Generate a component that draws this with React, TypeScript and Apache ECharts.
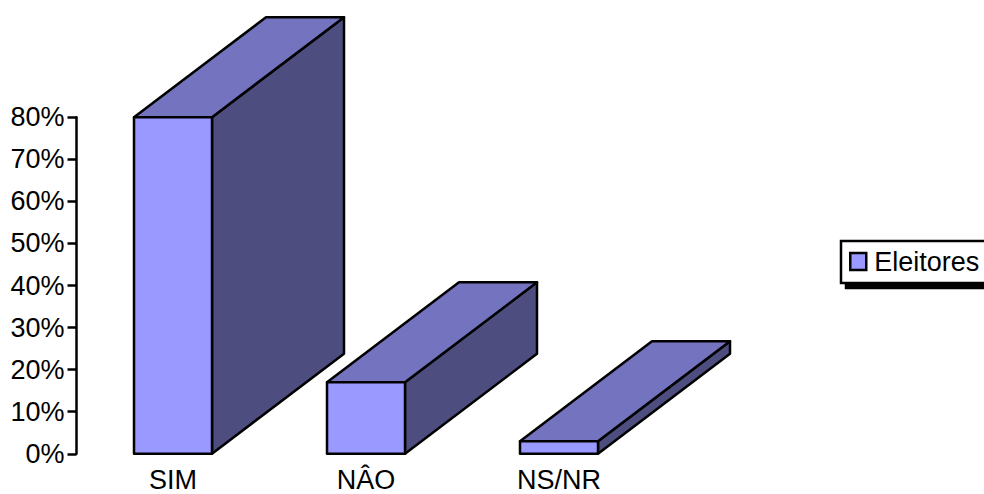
import React, { useEffect, useRef } from "react";
import * as echarts from "echarts";

const categories = ["SIM", "NÂO", "NS/NR"];
const eleitores = [80, 17, 3];
const seriesName = "Eleitores";
const yTicks = { min: 0, max: 80, interval: 10 };

const FRONT = "#9999FF";
const TOP = "#7373BF";
const SIDE = "#4D4D80";
const FONT = "'Liberation Sans', Arial, sans-serif";
const DEPTH_X = 132;
const DEPTH_Y = 100;
const BAR_WIDTH = 78;

// Draws one oblique 3D column: front, top and right faces.
function renderColumn(_params: any, api: any) {
  const [cx, yTop] = api.coord([api.value(0), api.value(1)]);
  const [, yBase] = api.coord([api.value(0), 0]);
  const l = cx - BAR_WIDTH / 2;
  const r = cx + BAR_WIDTH / 2;
  const stroke = { stroke: "#000", lineWidth: 2.5, lineJoin: "round" };
  const face = (points: number[][], fill: string) => ({
    type: "polygon",
    shape: { points },
    style: { fill, ...stroke },
  });
  return {
    type: "group",
    children: [
      face([[r, yTop], [r + DEPTH_X, yTop - DEPTH_Y], [r + DEPTH_X, yBase - DEPTH_Y], [r, yBase]], SIDE),
      face([[l, yTop], [l + DEPTH_X, yTop - DEPTH_Y], [r + DEPTH_X, yTop - DEPTH_Y], [r, yTop]], TOP),
      face([[l, yTop], [r, yTop], [r, yBase], [l, yBase]], FRONT),
    ],
  };
}

export default function App() {
  const ref = useRef<HTMLDivElement>(null);

  useEffect(() => {
    document.body.style.margin = "0";
    const chart = echarts.init(ref.current!, undefined, { renderer: "svg" });
    chart.setOption({
      animation: false,
      backgroundColor: "#fff",
      textStyle: { fontFamily: FONT },
      grid: { left: 76.5, top: 117.25, width: 579, height: 336.5, outerBoundsMode: "none" },
      legend: {
        left: 841,
        top: 241,
        orient: "horizontal",
        padding: [7, 60, 8, 8],
        itemWidth: 16,
        itemHeight: 17,
        itemGap: 0,
        backgroundColor: "#fff",
        borderColor: "#000",
        borderWidth: 2.5,
        shadowColor: "#000",
        shadowBlur: 0,
        shadowOffsetX: 5,
        shadowOffsetY: 5,
        textStyle: { fontFamily: FONT, fontSize: 27, color: "#000", padding: [0, 0, 0, 3] },
        data: [
          {
            name: seriesName,
            icon: "rect",
            itemStyle: { color: FRONT, borderColor: "#000", borderWidth: 2.5 },
          },
        ],
      },
      xAxis: {
        type: "category",
        data: categories,
        axisLine: { show: false },
        axisTick: { show: false },
        axisLabel: { color: "#000", fontSize: 27, lineHeight: 24, fontFamily: FONT, margin: 14 },
      },
      yAxis: {
        type: "value",
        min: yTicks.min,
        max: yTicks.max,
        interval: yTicks.interval,
        splitLine: { show: false },
        axisLine: { show: true, lineStyle: { color: "#000", width: 2.5 } },
        axisTick: { show: true, length: 9, lineStyle: { color: "#000", width: 2.5 } },
        axisLabel: {
          color: "#000",
          fontSize: 27,
          fontFamily: FONT,
          margin: 12,
          formatter: (v: number) => `${v}%`,
        },
      },
      series: [
        {
          type: "custom",
          name: seriesName,
          renderItem: renderColumn,
          encode: { x: 0, y: 1 },
          clip: false,
          data: categories.map((_, i) => [i, eleitores[i]]),
        },
      ],
    });
    return () => chart.dispose();
  }, []);

  return <div ref={ref} style={{ width: 984, height: 494 }} />;
}
